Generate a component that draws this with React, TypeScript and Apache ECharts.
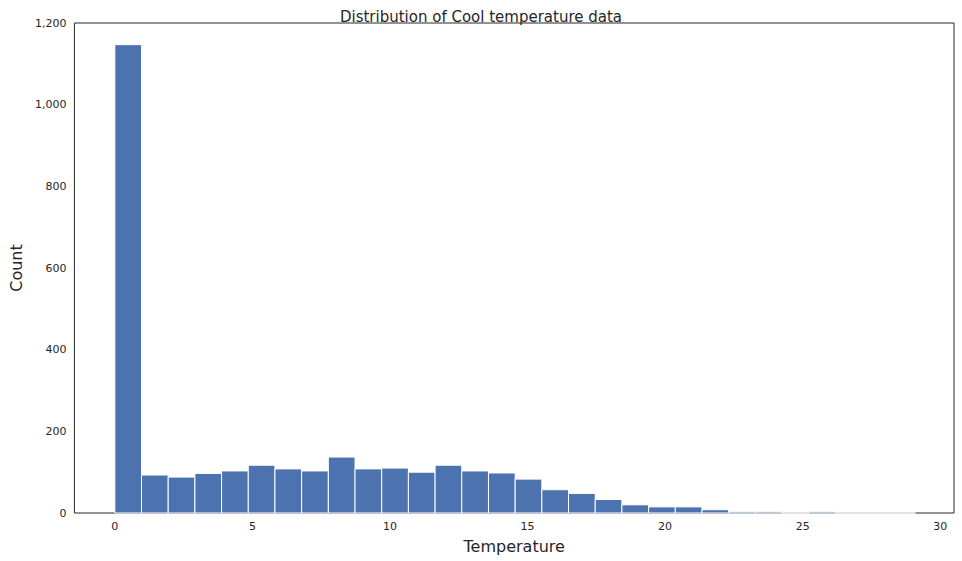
import { useRef, useEffect } from "react"
import * as echarts from "echarts"

const binWidth = 0.97
const counts = [1147, 93, 88, 97, 103, 117, 108, 103, 137, 108, 110, 100, 117, 103, 98, 83, 57, 48, 33, 20, 15, 15, 8, 3, 3, 0, 3, 0, 0, 0]
const xTicks = [0, 5, 10, 15, 20, 25, 30]

export default function App() {
  const chartRef = useRef<HTMLDivElement>(null)

  useEffect(() => {
    if (!chartRef.current) return
    const instance = echarts.init(chartRef.current, null, { renderer: "svg" })
    const data = counts.map((c, i) => [i * binWidth, (i + 1) * binWidth, c])
    instance.setOption({
      animation: false,
      textStyle: { fontFamily: "DejaVu Sans" },
      title: {
        text: "Distribution of Cool temperature data",
        left: "center",
        top: 4,
        textStyle: { fontSize: 15, fontWeight: "normal", color: "#262626" },
      },
      grid: { left: 63, right: 8, top: 23, bottom: 48, show: true, borderColor: "#262626", borderWidth: 1 },
      xAxis: {
        type: "value",
        min: -1.47,
        max: 30.5,
        name: "Temperature",
        nameLocation: "middle",
        nameGap: 25,
        nameTextStyle: { fontSize: 16, color: "#262626" },
        axisLine: { show: false },
        axisTick: { show: false },
        splitLine: { show: false },
        axisLabel: {
          fontSize: 11,
          color: "#262626",
          customValues: xTicks,
        },
      },
      yAxis: {
        type: "value",
        min: 0,
        max: 1200,
        interval: 200,
        name: "Count",
        nameLocation: "middle",
        nameGap: 40,
        nameTextStyle: { fontSize: 16, color: "#262626" },
        axisLine: { show: false },
        axisTick: { show: false },
        splitLine: { show: false },
        axisLabel: { fontSize: 11, color: "#262626" },
      },
      series: [
        {
          type: "custom",
          data,
          renderItem: (_p: any, api: any) => {
            const a = api.coord([api.value(0), api.value(2)])
            const b = api.coord([api.value(1), 0])
            return {
              type: "rect",
              shape: { x: a[0], y: a[1], width: b[0] - a[0], height: b[1] - a[1] },
              style: { fill: "#4c72b0", stroke: "#ffffff", lineWidth: 1 },
            }
          },
        },
      ],
    })
    return () => instance.dispose()
  }, [])

  return <div ref={chartRef} style={{ width: 962, height: 561, position: "absolute", left: 0, top: 0 }} />
}
